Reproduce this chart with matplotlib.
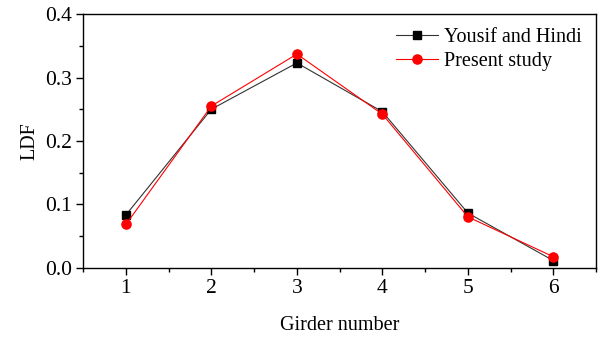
import matplotlib
matplotlib.use('Agg')
import matplotlib.pyplot as plt
from matplotlib.ticker import MultipleLocator

# girder data
girders = [1, 2, 3, 4, 5, 6]
yousif_hindi = [0.083, 0.250, 0.323, 0.246, 0.086, 0.011]
present_study = [0.068, 0.255, 0.337, 0.242, 0.080, 0.017]

plt.rcParams['font.family'] = ['Liberation Serif', 'DejaVu Serif']

fig = plt.figure(figsize=(5.98, 3.37), dpi=100)
ax = fig.add_axes([0.139, 0.206, 0.858, 0.752])

ax.plot(girders, yousif_hindi, color='#333333', lw=0.8, marker='s', ms=5.6,
        mfc='black', mec='black', label='Yousif and Hindi')
ax.plot(girders, present_study, color='red', lw=0.8, marker='o', ms=6.6,
        mfc='red', mec='red', label='Present study')

ax.set_xlim(0.5, 6.5)
ax.set_ylim(0, 0.4)
ax.xaxis.set_major_locator(MultipleLocator(1))
ax.xaxis.set_minor_locator(MultipleLocator(0.5))
ax.yaxis.set_major_locator(MultipleLocator(0.1))
ax.yaxis.set_minor_locator(MultipleLocator(0.05))
ax.yaxis.set_major_formatter(plt.FormatStrFormatter('%.1f'))

ax.tick_params(which='major', direction='out', length=5, width=1, labelsize=15.5, pad=3)
ax.tick_params(which='minor', direction='out', length=3, width=1)
for s in ax.spines.values():
    s.set_linewidth(1)

ax.set_xlabel('Girder number', fontsize=14.5, labelpad=13)
ax.set_ylabel('LDF', fontsize=14.5, labelpad=4)

ax.legend(loc='upper right', frameon=False, fontsize=14.5, handlelength=2.1,
          borderaxespad=0.3, labelspacing=0.25, handletextpad=0.3)

fig.savefig('out.png', dpi=100)
